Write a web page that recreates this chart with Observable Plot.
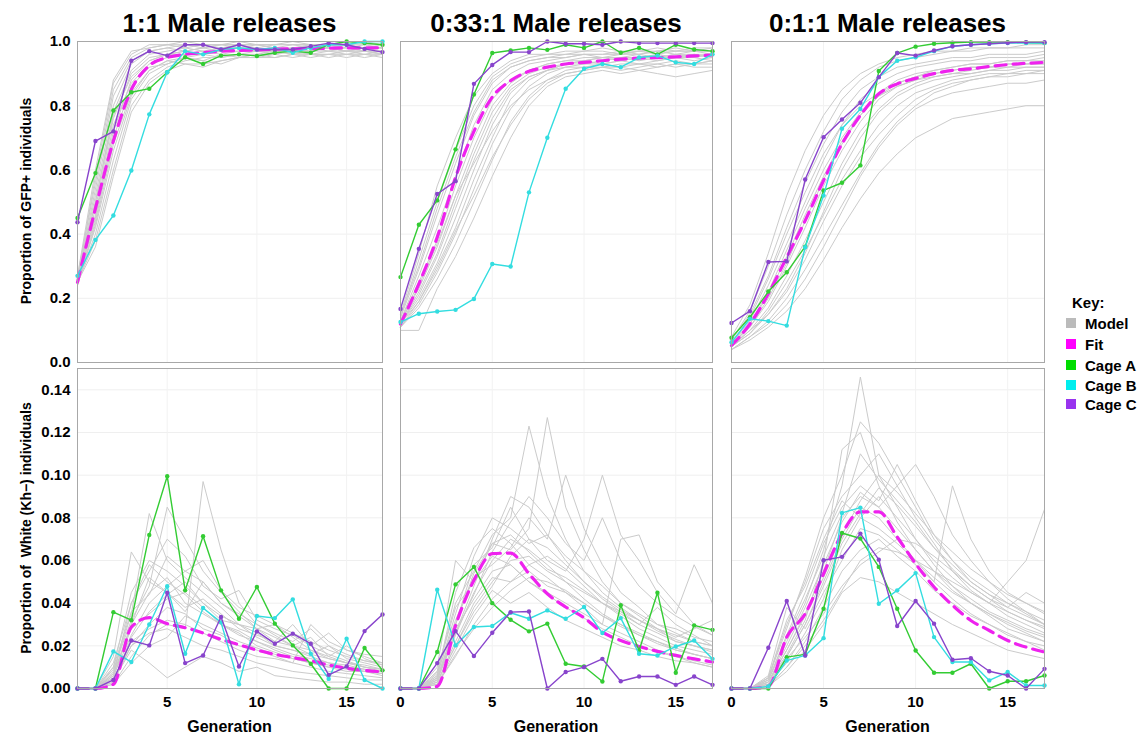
<!DOCTYPE html>
<html><head><meta charset="utf-8">
<script src="https://cdn.jsdelivr.net/npm/d3@7"></script>
<script src="https://cdn.jsdelivr.net/npm/@observablehq/plot@0.6"></script>
<style>
body{margin:0;background:#fff}
#root{position:relative;width:1145px;height:735px;overflow:hidden;background:#fff}
.panel{position:absolute}
#overlay{position:absolute;left:0;top:0;pointer-events:none}
#overlay text{font-family:"Liberation Sans",Arial,Helvetica,sans-serif;font-weight:bold;fill:#000}
</style>
</head><body><div id="root"></div>
<script>
// ---------- DATA ----------
const generations = [0,1,2,3,4,5,6,7,8,9,10,11,12,13,14,15,16,17];
const panelTitles = ["1:1 Male releases", "0:33:1 Male releases", "0:1:1 Male releases"];
const keyLabels = ["Model", "Fit", "Cage A", "Cage B", "Cage C"];
const gfpTicks = [0, 0.2, 0.4, 0.6, 0.8, 1.0];
const whiteTicks = [0, 0.02, 0.04, 0.06, 0.08, 0.10, 0.12, 0.14];
const genTicksFirst = [5, 10, 15];
const genTicks = [0, 5, 10, 15];

// GFP+ proportion, 1:1
const gfp11CageA = [0.45,0.59,0.785,0.842,0.853,0.904,0.951,0.93,0.956,0.96,0.955,0.965,0.97,0.965,0.99,1.0,0.995,0.99];
const gfp11CageB = [0.27,0.382,0.458,0.598,0.773,0.904,0.97,0.96,0.975,0.98,0.975,0.98,0.965,0.98,0.99,0.99,1.0,1.0];
const gfp11CageC = [0.437,0.69,0.72,0.94,0.97,0.956,0.99,0.99,0.975,0.99,0.975,0.975,0.975,0.985,0.995,0.99,0.977,0.967];
const gfp11Fit = [0.25,0.48,0.69,0.85,0.925,0.95,0.96,0.965,0.97,0.972,0.974,0.976,0.977,0.978,0.979,0.98,0.98,0.981];
const gfp11Model = [
  [0.25,0.45,0.72,0.88,0.94,0.96,0.97,0.98,0.97,0.98,0.98,0.97,0.98,0.98,0.99,0.98,0.98,0.97],
  [0.26,0.52,0.80,0.93,0.97,0.98,0.97,0.98,0.99,0.98,0.99,0.98,0.98,0.99,0.98,0.99,0.98,0.98],
  [0.25,0.40,0.63,0.82,0.90,0.93,0.95,0.94,0.96,0.95,0.96,0.97,0.96,0.97,0.97,0.96,0.97,0.96],
  [0.27,0.56,0.85,0.95,0.98,0.99,0.98,0.99,0.99,0.99,0.98,0.99,0.99,0.98,0.99,0.99,0.98,0.99],
  [0.25,0.48,0.76,0.90,0.95,0.96,0.96,0.97,0.96,0.97,0.97,0.96,0.97,0.96,0.97,0.97,0.96,0.97],
  [0.24,0.43,0.68,0.84,0.91,0.94,0.93,0.92,0.94,0.95,0.95,0.96,0.95,0.96,0.95,0.96,0.96,0.95],
  [0.26,0.50,0.78,0.91,0.96,0.97,0.98,0.97,0.98,0.98,0.97,0.98,0.97,0.98,0.98,0.97,0.98,0.98],
  [0.25,0.38,0.60,0.80,0.88,0.92,0.94,0.95,0.95,0.96,0.96,0.96,0.97,0.96,0.96,0.97,0.97,0.96],
  [0.26,0.58,0.87,0.96,0.99,0.99,0.99,0.98,0.99,0.99,0.99,0.99,0.99,0.99,0.99,0.98,0.99,0.99],
  [0.25,0.46,0.74,0.87,0.93,0.95,0.96,0.96,0.97,0.97,0.98,0.97,0.97,0.98,0.97,0.98,0.97,0.97],
  [0.26,0.54,0.83,0.94,0.97,0.98,0.99,0.99,0.98,0.99,0.99,0.98,0.99,0.99,0.98,0.99,0.99,0.98],
  [0.25,0.42,0.66,0.83,0.91,0.94,0.95,0.96,0.95,0.96,0.97,0.97,0.96,0.97,0.98,0.97,0.97,0.97],
  [0.27,0.60,0.88,0.97,0.98,0.99,1.0,0.99,0.99,1.0,0.99,0.99,1.0,0.99,0.99,0.99,1.0,0.99],
  [0.24,0.44,0.70,0.86,0.92,0.93,0.95,0.94,0.93,0.95,0.95,0.95,0.96,0.95,0.96,0.96,0.95,0.96],
  [0.26,0.50,0.77,0.89,0.94,0.96,0.97,0.96,0.97,0.98,0.97,0.97,0.98,0.97,0.98,0.97,0.98,0.98],
  [0.25,0.36,0.58,0.78,0.87,0.91,0.93,0.93,0.94,0.95,0.96,0.95,0.96,0.96,0.96,0.95,0.96,0.96]
];

// GFP+ proportion, 0.33:1
const gfp033CageA = [0.266,0.429,0.505,0.664,0.835,0.964,0.972,0.98,0.974,0.99,0.98,1.0,0.965,0.98,0.96,0.99,0.975,0.97];
const gfp033CageB = [0.126,0.152,0.159,0.164,0.198,0.307,0.299,0.53,0.70,0.853,0.915,0.93,0.92,0.95,0.956,0.935,0.93,0.96];
const gfp033CageC = [0.167,0.354,0.525,0.565,0.868,0.927,0.967,0.967,1.0,0.993,0.993,0.99,1.0,0.995,0.995,0.995,0.995,0.995];
const gfp033Fit = [0.12,0.245,0.39,0.577,0.72,0.827,0.878,0.907,0.92,0.93,0.935,0.94,0.945,0.948,0.95,0.952,0.955,0.958];
const gfp033Model = [
  [0.12,0.22,0.34,0.50,0.65,0.78,0.86,0.90,0.92,0.93,0.94,0.95,0.94,0.95,0.95,0.96,0.95,0.96],
  [0.13,0.27,0.42,0.58,0.74,0.85,0.90,0.93,0.94,0.95,0.96,0.95,0.96,0.96,0.97,0.96,0.97,0.97],
  [0.11,0.18,0.28,0.40,0.54,0.68,0.79,0.86,0.90,0.92,0.93,0.93,0.94,0.93,0.94,0.95,0.94,0.95],
  [0.14,0.32,0.50,0.66,0.80,0.89,0.93,0.95,0.96,0.96,0.97,0.97,0.96,0.97,0.97,0.98,0.97,0.97],
  [0.12,0.20,0.31,0.45,0.60,0.74,0.84,0.89,0.91,0.92,0.92,0.93,0.92,0.93,0.92,0.93,0.93,0.94],
  [0.10,0.10,0.23,0.33,0.45,0.58,0.70,0.80,0.86,0.89,0.90,0.91,0.90,0.91,0.90,0.89,0.90,0.91],
  [0.13,0.25,0.38,0.55,0.70,0.82,0.88,0.91,0.93,0.94,0.94,0.95,0.95,0.95,0.96,0.95,0.96,0.95],
  [0.12,0.24,0.37,0.52,0.62,0.72,0.80,0.85,0.88,0.90,0.91,0.92,0.92,0.91,0.92,0.93,0.92,0.92],
  [0.15,0.34,0.55,0.70,0.83,0.90,0.94,0.96,0.96,0.97,0.97,0.98,0.97,0.97,0.98,0.97,0.98,0.98],
  [0.11,0.19,0.30,0.42,0.57,0.70,0.82,0.88,0.91,0.93,0.94,0.93,0.94,0.95,0.94,0.95,0.95,0.94],
  [0.12,0.21,0.33,0.48,0.63,0.76,0.85,0.89,0.91,0.93,0.93,0.94,0.95,0.94,0.95,0.95,0.96,0.95],
  [0.14,0.29,0.46,0.62,0.77,0.87,0.92,0.94,0.95,0.96,0.96,0.96,0.97,0.96,0.97,0.97,0.97,0.98],
  [0.11,0.17,0.26,0.37,0.50,0.63,0.75,0.83,0.88,0.91,0.92,0.92,0.93,0.93,0.93,0.94,0.93,0.94],
  [0.13,0.23,0.36,0.52,0.67,0.80,0.87,0.91,0.93,0.94,0.95,0.95,0.95,0.96,0.95,0.96,0.96,0.96],
  [0.12,0.19,0.29,0.41,0.52,0.64,0.74,0.82,0.87,0.90,0.91,0.92,0.91,0.92,0.93,0.92,0.93,0.93],
  [0.15,0.30,0.48,0.64,0.78,0.88,0.92,0.94,0.95,0.95,0.96,0.96,0.96,0.97,0.96,0.97,0.97,0.96]
];

// GFP+ proportion, 0.1:1
const gfp01CageA = [0.077,0.141,0.221,0.281,0.361,0.536,0.56,0.614,0.908,0.964,0.984,0.993,0.996,0.998,0.998,0.998,0.997,0.995];
const gfp01CageB = [0.063,0.136,0.129,0.115,0.359,0.52,0.728,0.79,0.889,0.94,0.951,0.97,0.985,0.99,0.993,0.995,0.995,0.995];
const gfp01CageC = [0.123,0.16,0.313,0.315,0.57,0.702,0.757,0.809,0.889,0.964,0.956,0.972,0.985,0.99,0.993,0.996,0.998,0.998];
const gfp01Fit = [0.053,0.12,0.214,0.328,0.442,0.567,0.681,0.77,0.837,0.868,0.885,0.9,0.91,0.915,0.922,0.928,0.932,0.935];
const gfp01Model = [
  [0.05,0.10,0.17,0.27,0.38,0.50,0.62,0.72,0.79,0.84,0.87,0.89,0.90,0.91,0.92,0.92,0.93,0.93],
  [0.06,0.13,0.24,0.37,0.50,0.63,0.74,0.82,0.87,0.90,0.92,0.93,0.94,0.94,0.95,0.95,0.95,0.96],
  [0.04,0.08,0.13,0.20,0.29,0.39,0.49,0.59,0.68,0.75,0.80,0.84,0.86,0.88,0.89,0.90,0.90,0.91],
  [0.07,0.16,0.30,0.46,0.60,0.72,0.82,0.88,0.92,0.94,0.95,0.96,0.97,0.97,0.98,0.98,0.98,0.98],
  [0.05,0.11,0.19,0.30,0.42,0.55,0.66,0.75,0.82,0.86,0.88,0.90,0.91,0.92,0.92,0.93,0.93,0.94],
  [0.04,0.07,0.11,0.16,0.23,0.32,0.42,0.51,0.59,0.65,0.70,0.73,0.76,0.77,0.78,0.79,0.80,0.80],
  [0.06,0.12,0.21,0.33,0.46,0.58,0.69,0.77,0.84,0.88,0.90,0.91,0.92,0.93,0.93,0.94,0.94,0.94],
  [0.05,0.09,0.16,0.25,0.35,0.46,0.57,0.66,0.74,0.80,0.84,0.86,0.88,0.89,0.90,0.90,0.91,0.91],
  [0.08,0.18,0.34,0.52,0.66,0.77,0.85,0.90,0.93,0.95,0.96,0.97,0.97,0.98,0.98,0.98,0.99,0.99],
  [0.05,0.10,0.15,0.22,0.32,0.44,0.55,0.64,0.71,0.77,0.82,0.85,0.87,0.88,0.89,0.89,0.90,0.90],
  [0.07,0.15,0.27,0.42,0.56,0.68,0.78,0.85,0.89,0.92,0.93,0.94,0.95,0.95,0.96,0.96,0.96,0.97],
  [0.05,0.09,0.15,0.23,0.34,0.47,0.60,0.70,0.78,0.83,0.86,0.88,0.89,0.90,0.91,0.91,0.92,0.92],
  [0.06,0.14,0.26,0.40,0.53,0.65,0.74,0.80,0.84,0.87,0.89,0.90,0.91,0.92,0.92,0.93,0.93,0.93],
  [0.04,0.08,0.12,0.18,0.26,0.36,0.47,0.58,0.67,0.74,0.79,0.82,0.84,0.85,0.86,0.87,0.87,0.88],
  [0.06,0.11,0.20,0.31,0.44,0.57,0.68,0.77,0.83,0.87,0.89,0.91,0.92,0.93,0.93,0.94,0.94,0.95],
  [0.05,0.12,0.22,0.35,0.48,0.60,0.70,0.78,0.83,0.86,0.88,0.89,0.90,0.90,0.91,0.92,0.92,0.92]
];

// White (Kh-) proportion, 1:1
const white11CageA = [0,0,0.0358,0.032,0.072,0.0995,0.046,0.0714,0.046,0.0327,0.0476,0.0304,0.0202,0.0116,0,0,0.019,0.0085];
const white11CageB = [0,0,0.0174,0.0124,0.03,0.0479,0.0163,0.0377,0.031,0.002,0.034,0.033,0.0418,0.0163,0.0045,0.0233,0.004,0];
const white11CageC = [0,0,0.004,0.0225,0.0202,0.0449,0.0119,0.0155,0.0335,0.0103,0.0268,0.021,0.0257,0.021,0.0064,0.0103,0.0269,0.0347];
const white11Fit = [0,0,0.002,0.0288,0.0332,0.0304,0.0285,0.026,0.023,0.0205,0.018,0.016,0.0145,0.013,0.011,0.0095,0.0085,0.0078];
const white11Model = [
  [0,0,0.005,0.030,0.045,0.052,0.040,0.035,0.030,0.025,0.022,0.018,0.015,0.012,0.010,0.008,0.008,0.006],
  [0,0,0.010,0.045,0.060,0.055,0.048,0.040,0.032,0.030,0.024,0.020,0.018,0.015,0.012,0.011,0.009,0.008],
  [0,0,0.003,0.020,0.030,0.038,0.035,0.028,0.025,0.020,0.018,0.015,0.012,0.010,0.008,0.007,0.006,0.005],
  [0,0,0.015,0.064,0.050,0.045,0.038,0.042,0.035,0.028,0.025,0.022,0.030,0.020,0.016,0.013,0.010,0.009],
  [0,0,0.008,0.035,0.082,0.060,0.052,0.045,0.038,0.030,0.028,0.022,0.020,0.024,0.015,0.012,0.010,0.008],
  [0,0,0.002,0.015,0.025,0.030,0.028,0.097,0.065,0.040,0.030,0.025,0.020,0.018,0.014,0.012,0.010,0.009],
  [0,0,0.006,0.025,0.040,0.048,0.055,0.050,0.040,0.035,0.030,0.026,0.022,0.028,0.020,0.016,0.013,0.011],
  [0,0,0.004,0.018,0.012,0.005,0.010,0.015,0.012,0.008,0.010,0.006,0.005,0.004,0.003,0.003,0.002,0.002],
  [0,0,0.012,0.040,0.055,0.070,0.062,0.048,0.042,0.046,0.032,0.028,0.025,0.020,0.026,0.018,0.015,0.012],
  [0,0,0.007,0.028,0.035,0.042,0.045,0.038,0.030,0.026,0.020,0.017,0.014,0.012,0.010,0.010,0.008,0.007],
  [0,0,0.009,0.032,0.048,0.085,0.070,0.055,0.045,0.036,0.028,0.024,0.020,0.016,0.014,0.012,0.011,0.009],
  [0,0,0.004,0.022,0.028,0.032,0.030,0.026,0.022,0.018,0.015,0.014,0.012,0.030,0.022,0.018,0.016,0.015],
  [0,0,0.006,0.040,0.058,0.050,0.044,0.036,0.030,0.027,0.022,0.019,0.016,0.014,0.012,0.010,0.009,0.008],
  [0,0,0.003,0.024,0.036,0.044,0.050,0.040,0.034,0.030,0.026,0.020,0.018,0.016,0.020,0.014,0.012,0.010],
  [0,0,0.010,0.036,0.044,0.062,0.055,0.060,0.046,0.038,0.034,0.030,0.026,0.022,0.018,0.015,0.013,0.012],
  [0,0,0.005,0.020,0.026,0.028,0.024,0.020,0.018,0.015,0.012,0.010,0.008,0.007,0.006,0.005,0.004,0.004],
  [0,0,0.007,0.030,0.052,0.045,0.036,0.050,0.040,0.034,0.028,0.030,0.024,0.018,0.015,0.020,0.014,0.011],
  [0,0,0.002,0.012,0.020,0.024,0.034,0.030,0.026,0.022,0.019,0.016,0.014,0.012,0.011,0.009,0.008,0.007]
];

// White (Kh-) proportion, 0.33:1
const white033CageA = [0,0,0.0171,0.0488,0.057,0.04,0.0322,0.0268,0.0304,0.0116,0.0103,0.0033,0.039,0.0178,0.0449,0.0074,0.0296,0.0275];
const white033CageB = [0,0,0.0463,0.0202,0.0288,0.0293,0.0355,0.0327,0.0366,0.0327,0.0382,0.026,0.033,0.0163,0.0155,0.0197,0.0225,0.0139];
const white033CageC = [0,0,0.0119,0.0269,0.0152,0.0261,0.0358,0.0361,0,0.0077,0.01,0.0139,0.0034,0.0056,0.0056,0.0017,0.0056,0.0017];
const white033Fit = [0,0,0.001,0.0296,0.0507,0.0632,0.0635,0.0538,0.0444,0.0382,0.0332,0.0264,0.0225,0.0197,0.0174,0.0155,0.0139,0.0124];
const white033Model = [
  [0,0,0.004,0.025,0.045,0.060,0.070,0.065,0.058,0.050,0.042,0.035,0.030,0.025,0.022,0.018,0.016,0.014],
  [0,0,0.008,0.040,0.055,0.072,0.080,0.123,0.090,0.070,0.055,0.045,0.038,0.032,0.028,0.022,0.020,0.018],
  [0,0,0.002,0.015,0.030,0.042,0.050,0.055,0.048,0.045,0.038,0.030,0.026,0.022,0.018,0.015,0.012,0.010],
  [0,0,0.010,0.060,0.050,0.068,0.065,0.075,0.127,0.085,0.065,0.050,0.040,0.035,0.030,0.026,0.022,0.020],
  [0,0,0.005,0.030,0.058,0.066,0.085,0.070,0.060,0.055,0.070,0.100,0.072,0.060,0.045,0.035,0.058,0.040],
  [0,0,0.003,0.020,0.038,0.050,0.060,0.062,0.055,0.050,0.045,0.040,0.035,0.030,0.026,0.022,0.020,0.018],
  [0,0,0.006,0.035,0.062,0.080,0.075,0.068,0.072,0.060,0.050,0.042,0.036,0.030,0.038,0.030,0.025,0.020],
  [0,0,0.004,0.028,0.042,0.055,0.058,0.050,0.045,0.040,0.035,0.030,0.070,0.072,0.050,0.040,0.030,0.025],
  [0,0,0.007,0.032,0.052,0.058,0.066,0.080,0.070,0.100,0.075,0.058,0.045,0.038,0.030,0.028,0.024,0.022],
  [0,0,0.002,0.018,0.034,0.046,0.040,0.045,0.038,0.032,0.028,0.024,0.020,0.018,0.015,0.013,0.012,0.010],
  [0,0,0.005,0.026,0.048,0.070,0.090,0.085,0.072,0.062,0.055,0.048,0.040,0.034,0.028,0.024,0.028,0.032],
  [0,0,0.003,0.022,0.040,0.052,0.050,0.058,0.062,0.056,0.048,0.040,0.034,0.028,0.024,0.020,0.018,0.016],
  [0,0,0.006,0.045,0.066,0.075,0.068,0.058,0.052,0.045,0.040,0.034,0.029,0.025,0.021,0.018,0.016,0.014],
  [0,0,0.003,0.020,0.036,0.048,0.062,0.070,0.066,0.058,0.050,0.043,0.037,0.032,0.027,0.023,0.020,0.017],
  [0,0,0.008,0.038,0.050,0.062,0.058,0.050,0.044,0.038,0.033,0.028,0.024,0.020,0.017,0.015,0.013,0.011],
  [0,0,0.004,0.026,0.044,0.064,0.078,0.090,0.080,0.068,0.060,0.080,0.060,0.048,0.040,0.034,0.029,0.025],
  [0,0,0.002,0.016,0.028,0.038,0.046,0.052,0.050,0.046,0.040,0.034,0.030,0.026,0.022,0.019,0.016,0.014],
  [0,0,0.005,0.030,0.054,0.068,0.072,0.064,0.056,0.052,0.046,0.040,0.036,0.032,0.028,0.025,0.022,0.020]
];

// White (Kh-) proportion, 0.1:1
const white01CageA = [0,0,0,0.0147,0.016,0.0374,0.0729,0.0703,0.057,0.0374,0.0178,0.0074,0.0074,0.0116,0,0.0034,0.0034,0.0061];
const white01CageB = [0,0,0.001,0.0131,0.0155,0.0236,0.0823,0.0848,0.0397,0.046,0.0541,0.0241,0.0124,0.0124,0.0038,0.0077,0.0014,0.0014];
const white01CageC = [0,0,0.0191,0.041,0.0155,0.0601,0.0617,0.0726,0.0604,0.0293,0.041,0.0304,0.0135,0.0142,0.0081,0.0061,0,0.0092];
const white01Fit = [0,0,0.001,0.0241,0.035,0.0538,0.0726,0.0828,0.0828,0.071,0.0585,0.0476,0.039,0.0319,0.0272,0.0225,0.0194,0.0171];
const white01Model = [
  [0,0,0.002,0.015,0.030,0.050,0.070,0.085,0.080,0.070,0.060,0.050,0.042,0.035,0.030,0.025,0.022,0.018],
  [0,0,0.004,0.022,0.040,0.065,0.095,0.146,0.100,0.085,0.070,0.058,0.048,0.040,0.034,0.028,0.025,0.022],
  [0,0,0.001,0.010,0.022,0.038,0.055,0.065,0.070,0.062,0.055,0.046,0.040,0.034,0.030,0.026,0.022,0.020],
  [0,0,0.005,0.030,0.050,0.075,0.090,0.100,0.110,0.095,0.080,0.068,0.055,0.046,0.040,0.034,0.030,0.026],
  [0,0,0.003,0.018,0.035,0.055,0.080,0.090,0.085,0.095,0.105,0.090,0.072,0.060,0.050,0.042,0.036,0.030],
  [0,0,0.006,0.038,0.028,0.045,0.060,0.075,0.072,0.065,0.058,0.050,0.095,0.070,0.055,0.045,0.040,0.035],
  [0,0,0.002,0.012,0.026,0.042,0.065,0.080,0.090,0.080,0.070,0.060,0.052,0.045,0.040,0.050,0.060,0.084],
  [0,0,0.003,0.016,0.032,0.060,0.112,0.120,0.095,0.078,0.065,0.055,0.046,0.040,0.035,0.030,0.026,0.022],
  [0,0,0.002,0.014,0.024,0.035,0.048,0.058,0.064,0.070,0.068,0.062,0.055,0.048,0.042,0.038,0.034,0.030],
  [0,0,0.004,0.025,0.045,0.068,0.085,0.095,0.088,0.105,0.088,0.072,0.060,0.050,0.044,0.038,0.045,0.040],
  [0,0,0.001,0.008,0.018,0.030,0.045,0.052,0.050,0.045,0.040,0.035,0.030,0.026,0.022,0.018,0.016,0.014],
  [0,0,0.005,0.028,0.052,0.080,0.100,0.125,0.115,0.100,0.085,0.070,0.060,0.052,0.046,0.040,0.035,0.030],
  [0,0,0.003,0.020,0.038,0.058,0.078,0.092,0.085,0.075,0.065,0.055,0.048,0.042,0.036,0.032,0.028,0.025],
  [0,0,0.002,0.015,0.030,0.048,0.068,0.082,0.094,0.086,0.076,0.066,0.056,0.048,0.042,0.036,0.032,0.028],
  [0,0,0.004,0.024,0.042,0.062,0.082,0.110,0.098,0.088,0.078,0.066,0.058,0.050,0.044,0.040,0.036,0.032],
  [0,0,0.001,0.010,0.020,0.032,0.046,0.060,0.066,0.064,0.060,0.055,0.050,0.045,0.040,0.036,0.032,0.029],
  [0,0,0.005,0.032,0.048,0.070,0.088,0.080,0.075,0.068,0.060,0.052,0.045,0.040,0.035,0.031,0.027,0.024],
  [0,0,0.003,0.018,0.034,0.052,0.072,0.088,0.100,0.092,0.082,0.072,0.064,0.056,0.050,0.044,0.040,0.036]
];

// ---------- STYLE ----------
const COLORS = {model:"#cbcbcb", fit:"#ee22ee", A:"#33cc33", B:"#33dde0", C:"#8844cc"};
const KEY_COLORS = ["#bbbbbb", "#ff00ff", "#00dd00", "#00eeee", "#9933ee"];
const FONT = '"Liberation Sans", Arial, Helvetica, sans-serif';

const colLeft = [77, 400, 731];
const colWidth = [305, 312, 313];
const rowTop = [41, 368];
const rowHeight = [321, 320];

const panels = [
  {row:0, col:0, model:gfp11Model, fit:gfp11Fit, A:gfp11CageA, B:gfp11CageB, C:gfp11CageC},
  {row:0, col:1, model:gfp033Model, fit:gfp033Fit, A:gfp033CageA, B:gfp033CageB, C:gfp033CageC},
  {row:0, col:2, model:gfp01Model, fit:gfp01Fit, A:gfp01CageA, B:gfp01CageB, C:gfp01CageC},
  {row:1, col:0, model:white11Model, fit:white11Fit, A:white11CageA, B:white11CageB, C:white11CageC},
  {row:1, col:1, model:white033Model, fit:white033Fit, A:white033CageA, B:white033CageB, C:white033CageC},
  {row:1, col:2, model:white01Model, fit:white01Fit, A:white01CageA, B:white01CageB, C:white01CageC}
];

const toRows = (vals) => vals.map((v, i) => ({gen: generations[i], v}));

const root = document.getElementById("root");

for (const p of panels) {
  const mL = p.col === 0 ? 60 : 8, mR = 8, mT = 8, mB = p.row === 1 ? 40 : 8;
  const W = colWidth[p.col], H = rowHeight[p.row];
  const yDomain = p.row === 0 ? [0, 1] : [0, 0.15];
  const yTicks = p.row === 0 ? gfpTicks : whiteTicks;
  const xTicks = p.col === 0 ? genTicksFirst : genTicks;
  const modelRows = p.model.flatMap((run, r) => run.map((v, i) => ({gen: generations[i], v, run: r})));

  const marks = [
    Plot.ruleY(yTicks, {stroke: "#efefef", strokeWidth: 1}),
    Plot.ruleX(genTicks, {stroke: "#f2f2f2", strokeWidth: 1}),
    Plot.line(modelRows, {x: "gen", y: "v", z: "run", stroke: COLORS.model, strokeWidth: 1}),
    Plot.line(toRows(p.fit), {x: "gen", y: "v", stroke: COLORS.fit, strokeWidth: 3.2, strokeDasharray: "11,7", curve: "monotone-x"}),
  ];
  for (const k of ["A", "B", "C"]) {
    const rows = toRows(p[k]);
    marks.push(Plot.line(rows, {x: "gen", y: "v", stroke: COLORS[k], strokeWidth: 1.4}));
    marks.push(Plot.dot(rows, {x: "gen", y: "v", fill: COLORS[k], r: 2.2, stroke: "none"}));
  }
  marks.push(Plot.frame({stroke: "#a8a8a8", strokeWidth: 1}));

  const chart = Plot.plot({
    width: W + mL + mR,
    height: H + mT + mB,
    marginLeft: mL, marginRight: mR, marginTop: mT, marginBottom: mB,
    style: {background: "transparent", fontFamily: FONT, fontSize: "15px", fontWeight: "bold", color: "#000", overflow: "visible"},
    x: {domain: [0, 17], ticks: xTicks, tickSize: 0, tickPadding: 8, label: null, tickFormat: d3.format("d"), axis: p.row === 1 ? "bottom" : null},
    y: {domain: yDomain, ticks: yTicks, tickSize: 0, tickPadding: 7, label: null,
        tickFormat: d3.format(p.row === 0 ? ".1f" : ".2f"), axis: p.col === 0 ? "left" : null},
    marks
  });
  const div = document.createElement("div");
  div.className = "panel";
  div.style.left = (colLeft[p.col] - mL) + "px";
  div.style.top = (rowTop[p.row] - mT) + "px";
  div.appendChild(chart);
  root.appendChild(div);
}

// ---------- TEXT OVERLAY ----------
const NS = "http://www.w3.org/2000/svg";
const ov = document.createElementNS(NS, "svg");
ov.setAttribute("id", "overlay");
ov.setAttribute("width", 1145);
ov.setAttribute("height", 735);
root.appendChild(ov);
function txt(s, x, y, size, anchor, transform) {
  const t = document.createElementNS(NS, "text");
  t.setAttribute("x", x); t.setAttribute("y", y);
  t.setAttribute("font-size", size);
  t.setAttribute("text-anchor", anchor || "middle");
  t.style.whiteSpace = "pre";
  if (transform) t.setAttribute("transform", transform);
  t.textContent = s;
  ov.appendChild(t);
  return t;
}
panelTitles.forEach((s, i) => txt(s, colLeft[i] + colWidth[i] / 2, 32, 26));
colLeft.forEach((l, i) => txt("Generation", l + colWidth[i] / 2, 732, 16));
txt("Proportion of GFP+ individuals", 0, 0, 14, "middle", "translate(31,201) rotate(-90)");
txt("Proportion of  White (Kh\u2212) individuals", 0, 0, 14, "middle", "translate(31,528) rotate(-90)");

txt("Key:", 1072, 308, 15, "start");
const keyY = [323, 344, 365, 385, 404];
keyLabels.forEach((s, i) => {
  const r = document.createElementNS(NS, "rect");
  r.setAttribute("x", 1066); r.setAttribute("y", keyY[i] - 5);
  r.setAttribute("width", 10); r.setAttribute("height", 10);
  r.setAttribute("fill", KEY_COLORS[i]);
  ov.appendChild(r);
  txt(s, 1085, keyY[i] + 5.5, 15, "start");
});
</script>
</body></html>
